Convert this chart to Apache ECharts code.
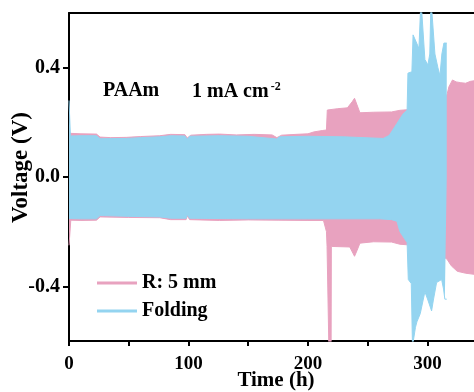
<!DOCTYPE html>
<html>
<head>
<meta charset="utf-8">
<script src="https://cdn.jsdelivr.net/npm/echarts@6/dist/echarts.min.js"></script>
<style>
html,body{margin:0;padding:0;background:#fff;}
#chart{width:474px;height:392px;}
</style>
</head>
<body>
<div id="chart"></div>
<script>
// Envelope of the cycling voltage, [time (h), voltage (V)]
var rTop = [[0,0.16],[1,0.16],[10,0.158],[23,0.157],[26,0.146],[35,0.144],[48,0.145],[60,0.148],[76,0.151],[85,0.156],[97,0.155],[99,0.143],[102,0.153],[115,0.156],[126,0.157],[140,0.154],[155,0.156],[170,0.154],[174,0.144],[178,0.153],[190,0.156],[200,0.158],[205,0.165],[212,0.17],[215.5,0.172],[216.2,0.245],[225,0.25],[233,0.253],[237,0.275],[239,0.288],[241,0.265],[243.5,0.235],[255,0.237],[270,0.238],[277,0.244],[283,0.246],[300,0.26],[316.3,0.3],[318,0.33],[321,0.355],[324,0.348],[328,0.345],[332,0.343],[336,0.35],[339,0.352]];
var rBottom = [[0,-0.25],[0.7,-0.25],[1,-0.19],[1.5,-0.158],[10,-0.159],[23,-0.158],[26,-0.146],[50,-0.148],[76,-0.149],[85,-0.156],[98,-0.156],[99,-0.142],[101,-0.156],[126,-0.159],[150,-0.157],[175,-0.158],[200,-0.159],[213,-0.159],[215.5,-0.2],[216,-0.254],[217.3,-0.254],[217.5,-0.62],[219.4,-0.62],[219.6,-0.254],[235,-0.256],[239,-0.29],[241,-0.27],[243.5,-0.242],[255,-0.237],[270,-0.238],[277,-0.246],[283,-0.248],[300,-0.26],[316.3,-0.3],[320,-0.325],[325,-0.345],[332,-0.352],[339,-0.356]];
var fTop = [[0,0.28],[0.8,0.28],[1.2,0.15],[10,0.151],[23,0.151],[26,0.14],[48,0.141],[60,0.144],[76,0.147],[85,0.151],[97,0.15],[99,0.138],[101,0.149],[126,0.151],[150,0.149],[174,0.139],[176,0.147],[200,0.149],[230,0.147],[263,0.141],[268,0.152],[274.5,0.196],[279.5,0.23],[283,0.244],[283.7,0.38],[287,0.385],[288,0.52],[291,0.49],[292.9,0.47],[294.6,0.65],[296.2,0.65],[297.9,0.43],[300.4,0.41],[302,0.45],[303,0.65],[304.6,0.65],[306.3,0.45],[308.8,0.4],[310.5,0.37],[312.1,0.45],[313.8,0.49],[316.2,0.49]];
var fBottom = [[0,-0.152],[10,-0.153],[23,-0.153],[26,-0.141],[50,-0.144],[76,-0.146],[85,-0.151],[98,-0.151],[99,-0.138],[101,-0.151],[150,-0.153],[200,-0.153],[260,-0.153],[270,-0.156],[274.5,-0.162],[277,-0.2],[283,-0.24],[284,-0.375],[286.5,-0.39],[287.5,-0.62],[288.5,-0.62],[290,-0.55],[291.2,-0.53],[294,-0.5],[297.9,-0.42],[300.4,-0.45],[303.5,-0.49],[305,-0.45],[307.7,-0.386],[311.9,-0.375],[313.5,-0.41],[314.6,-0.447],[316.2,-0.447]];

var seriesNames = ['R: 5 mm', 'Folding'];
var xTicks = [0,50,100,150,200,250,300];
var xLabels = [0,100,200,300];
var yTicks = [-0.4,0,0.4];
var yLabels = [-0.4,0,0.4];

var PINK = '#e8a2bf';
var BLUE = '#94d4f0';
var FONT = '"Liberation Serif", "Times New Roman", serif';

function band(name, data, color, z) {
  return {
    name: name, type: 'line', data: data, showSymbol: false, symbol: 'none', z: z,
    lineStyle: {color: color, width: 1}, itemStyle: {color: color},
    areaStyle: {color: color, opacity: 1}, clip: true, silent: true
  };
}

var chart = echarts.init(document.getElementById('chart'), null, {renderer: 'canvas'});
chart.setOption({
  animation: false,
  backgroundColor: '#fff',
  grid: {left: 69, top: 13, right: 0, bottom: 51, containLabel: false, outerBoundsMode: 'none'},
  legend: {
    data: seriesNames, orient: 'vertical', left: 97, top: 273, padding: 0,
    icon: 'rect', itemWidth: 40, itemHeight: 3, itemGap: 8,
    textStyle: {fontFamily: FONT, fontWeight: 'bold', fontSize: 20, color: '#000'}
  },
  xAxis: [{
    type: 'value', min: 0, max: 339, position: 'bottom',
    name: 'Time (h)', nameLocation: 'middle', nameGap: 29, nameMoveOverlap: false,
    nameTextStyle: {fontFamily: FONT, fontWeight: 'bold', fontSize: 21, color: '#000', padding: [0,0,0,9]},
    axisLine: {show: true, onZero: false, lineStyle: {color: '#000', width: 2}},
    axisTick: {show: true, inside: false, length: 5, customValues: xTicks, lineStyle: {color: '#000', width: 2}},
    axisLabel: {customValues: xLabels, margin: 14, fontFamily: FONT, fontWeight: 'bold', fontSize: 19, color: '#000'},
    splitLine: {show: false}
  }, {
    type: 'value', min: 0, max: 339, position: 'top',
    axisLine: {show: true, onZero: false, lineStyle: {color: '#000', width: 2}},
    axisTick: {show: false}, axisLabel: {show: false}, splitLine: {show: false}
  }],
  yAxis: {
    type: 'value', min: -0.6, max: 0.6,
    name: 'Voltage (V)', nameLocation: 'middle', nameGap: 36, nameRotate: 90, nameMoveOverlap: false,
    nameTextStyle: {fontFamily: FONT, fontWeight: 'bold', fontSize: 23, color: '#000', padding: [0,0,0,19]},
    axisLine: {show: true, onZero: false, lineStyle: {color: '#000', width: 2}},
    axisTick: {show: true, inside: false, length: 6, customValues: yTicks, lineStyle: {color: '#000', width: 2}},
    axisLabel: {customValues: yLabels, margin: 9, fontFamily: FONT, fontWeight: 'bold', fontSize: 20, color: '#000',
      formatter: function (v) { return v.toFixed(1); }},
    splitLine: {show: false}
  },
  graphic: [
    {type: 'text', left: 103, top: 81, style: {text: 'PAAm', font: 'bold 20px ' + FONT, fill: '#000'}},
    {type: 'text', left: 192, top: 81, style: {
      text: '{a|1 mA cm}{b|-2}',
      rich: {
        a: {fontFamily: FONT, fontWeight: 'bold', fontSize: 20, lineHeight: 22, color: '#000'},
        b: {fontFamily: FONT, fontWeight: 'bold', fontSize: 12, lineHeight: 22, verticalAlign: 'top', color: '#000', padding: [0,0,0,2]}
      }
    }}
  ],
  series: [
    band(seriesNames[0], rTop, PINK, 2),
    band(seriesNames[0], rBottom, PINK, 2),
    band(seriesNames[1], fTop, BLUE, 3),
    band(seriesNames[1], fBottom, BLUE, 3)
  ]
});
</script>
</body>
</html>
